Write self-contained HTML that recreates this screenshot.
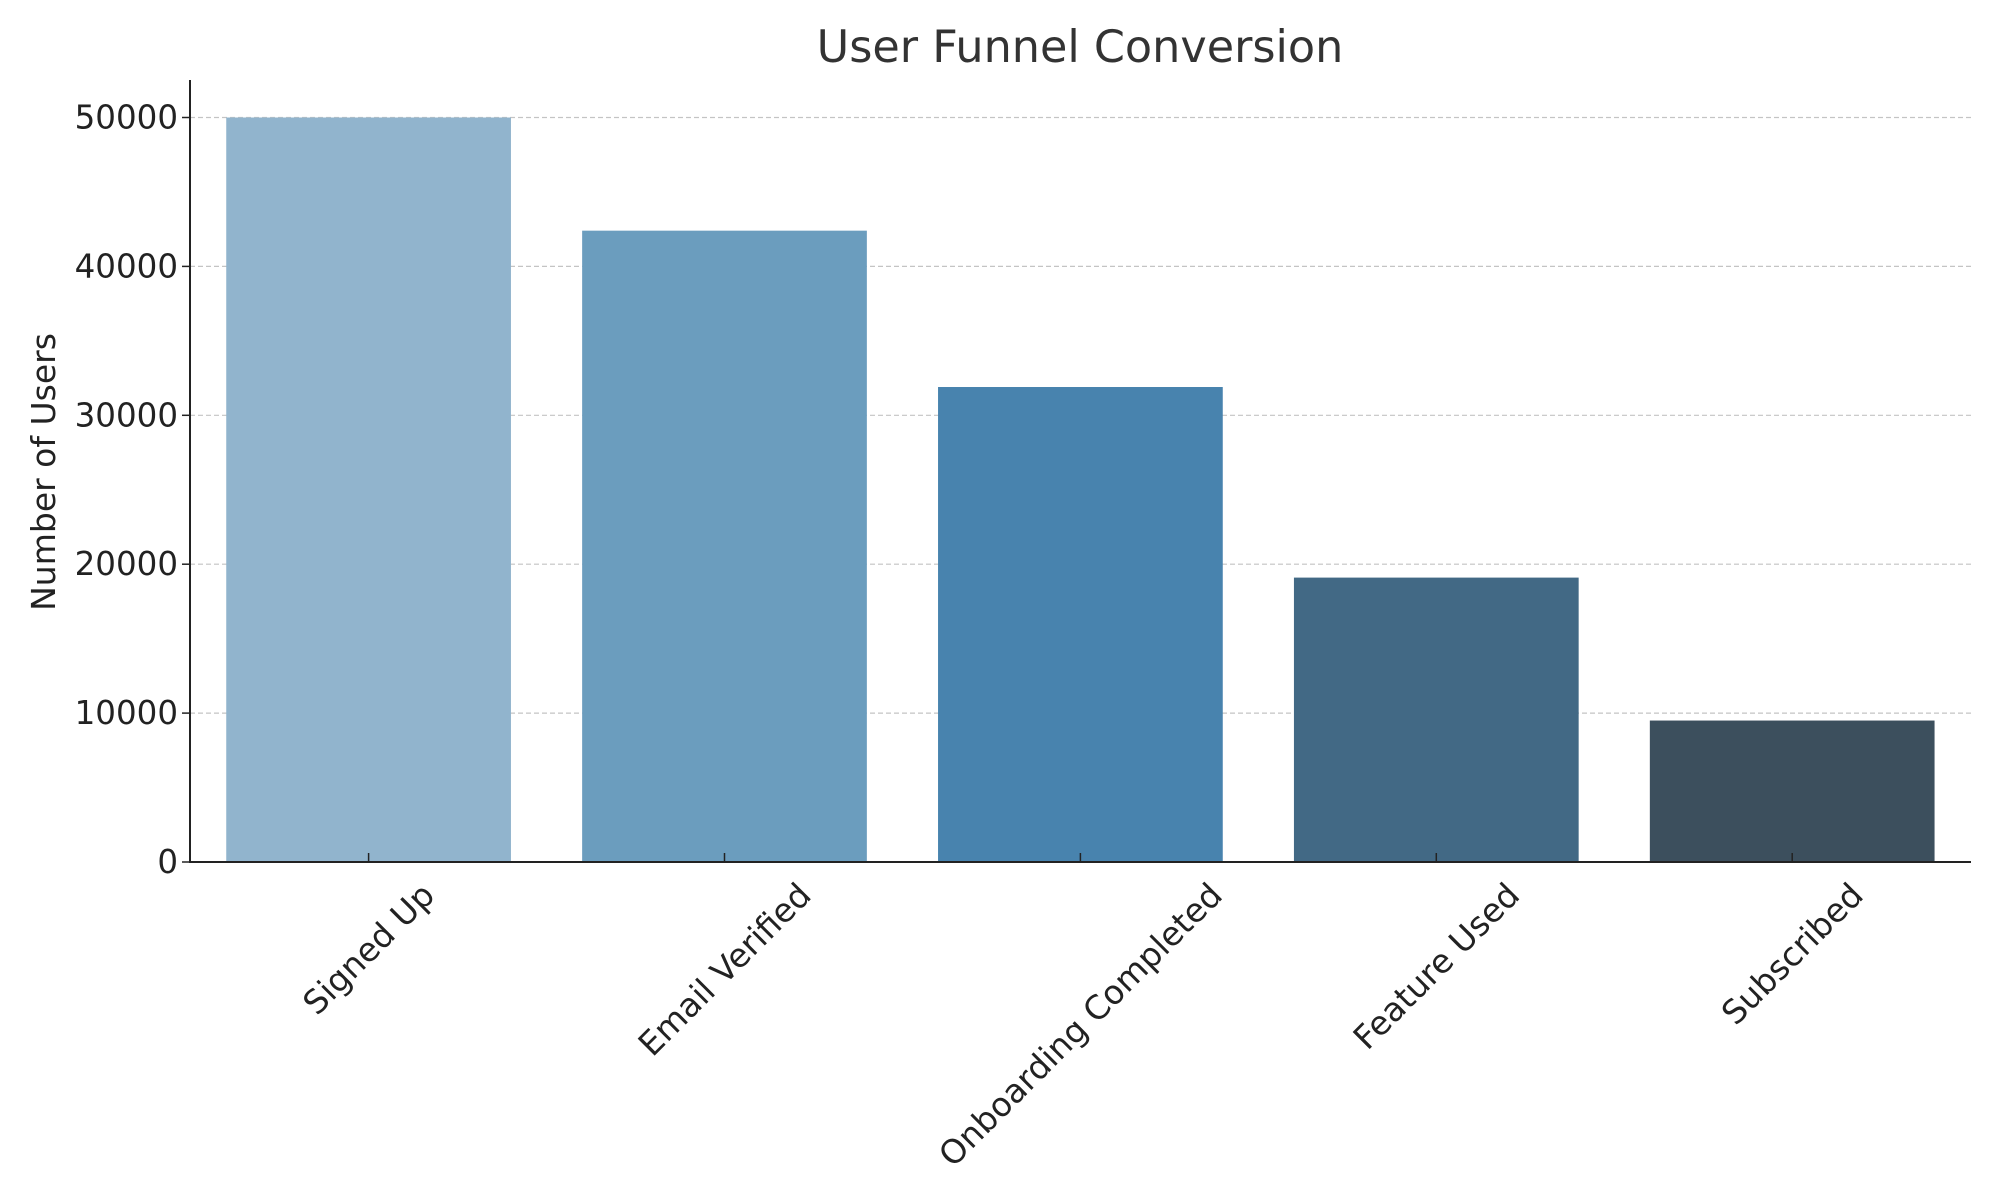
<!DOCTYPE html>
<html><head><meta charset="utf-8"><style>
body{margin:0;background:#fff;}
svg{display:block;font-family:"DejaVu Sans","Liberation Sans",sans-serif;}
</style></head><body>
<svg id="chart" width="2000" height="1200" viewBox="0 0 2000 1200">
<text x="1080" y="62" text-anchor="middle" font-size="44.5" fill="#333">User Funnel Conversion</text>
<text transform="translate(55,472) rotate(-90)" text-anchor="middle" font-size="33" fill="#222">Number of Users</text>
<g id="grid"></g><g id="bars"></g><g id="axes"></g>
</svg>
<script>
const categories=["Signed Up","Email Verified","Onboarding Completed","Feature Used","Subscribed"];
const values=[50000,42400,31900,19100,9500];
const colors=["#91b4cd","#6b9dbe","#4883ae","#426985","#3c4f5d"];
const yTicks=[0,10000,20000,30000,40000,50000];
const NS="http://www.w3.org/2000/svg";
const L=190,R=1971,Y0=862,Y50=117.5,TOP=80;
const y=v=>Y0-(Y0-Y50)*v/50000;
const step=355.9,first=368.6;
const x=i=>first+i*step;
function mk(t,a,p){const e=document.createElementNS(NS,t);for(const k in a)e.setAttribute(k,a[k]);p.appendChild(e);return e;}
const grid=document.getElementById('grid'),bars=document.getElementById('bars'),axes=document.getElementById('axes');
yTicks.forEach(t=>{
 if(t>0){const g=mk('line',{x1:L,x2:R,y1:y(t),y2:y(t),stroke:'#c4c4c4','stroke-dasharray':'5,3','stroke-width':1.2},grid);
 
 }
 const tk=mk('line',{x1:L-8,x2:L,y1:y(t),y2:y(t),stroke:'#222','stroke-width':1.5},axes);
 
 
 const lb=mk('text',{x:L-12,y:y(t)+11,'text-anchor':'end','font-size':32.5,fill:'#222'},axes);
 lb.textContent=t;
 
 
});
const bw=step*0.8,fs=33;
categories.forEach((c,i)=>{
 const b=mk('rect',{x:x(i)-bw/2,y:y(values[i]),width:bw,height:Y0-y(values[i]),fill:colors[i]},bars);
 
 
 const tk=mk('line',{x1:x(i),x2:x(i),y1:Y0,y2:Y0-9,stroke:'#222','stroke-width':1.5},axes);
 
 
 const lb=mk('text',{'text-anchor':'middle','dominant-baseline':'central','font-size':fs,fill:'#222'},axes);
 lb.textContent=c;
 
 
 const w=lb.getComputedTextLength();
 const cy=Y0+16+(w+fs*0.95)/(2*Math.SQRT2);
 lb.setAttribute('transform',`translate(${x(i)},${cy}) rotate(-45)`);
});
const ya=mk('line',{x1:L,x2:L,y1:TOP,y2:Y0+1,stroke:'#222','stroke-width':2},axes);


const xa=mk('line',{x1:L-1,x2:R,y1:Y0,y2:Y0,stroke:'#222','stroke-width':2},axes);


</script>
</body></html>
